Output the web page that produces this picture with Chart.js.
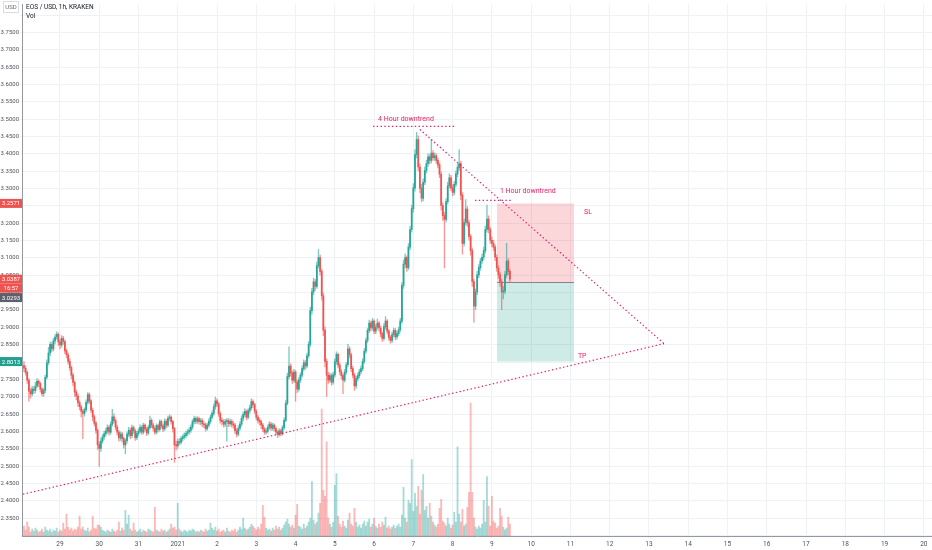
<!DOCTYPE html>
<html>
<head>
<meta charset="utf-8">
<script src="https://cdn.jsdelivr.net/npm/chart.js@4.4.0/dist/chart.umd.min.js"></script>
<style>
  html, body { margin: 0; padding: 0; background: #fff; }
  #wrap { width: 932px; height: 550px; }
</style>
</head>
<body>
<div id="wrap"><canvas id="chart"></canvas></div>
<script>
// EOS/USD 1h candles, hour 0 = Dec 28 00:00 (first candle at hour 2)
const firstHour = 2;
const firstOpen = 2.790;

const closes = [
  2.782, 2.770, 2.748, 2.716, 2.708, 2.722, 2.718, 2.731, 2.744, 2.738, 2.722, 2.709,
  2.718, 2.756, 2.798, 2.826, 2.851, 2.838, 2.861, 2.872, 2.880, 2.858, 2.849, 2.868,
  2.859, 2.832, 2.821, 2.802, 2.784, 2.762, 2.741, 2.713, 2.702, 2.683, 2.671, 2.658,
  2.652, 2.663, 2.684, 2.706, 2.688, 2.661, 2.642, 2.624, 2.603, 2.562, 2.551, 2.572,
  2.584, 2.593, 2.601, 2.612, 2.598, 2.621, 2.642, 2.631, 2.612, 2.598, 2.581, 2.592,
  2.579, 2.561, 2.573, 2.592, 2.603, 2.588, 2.611, 2.602, 2.582, 2.594, 2.601, 2.612,
  2.598, 2.618, 2.607, 2.596, 2.611, 2.632, 2.618, 2.609, 2.598, 2.617, 2.606, 2.628,
  2.616, 2.607, 2.629, 2.618, 2.638, 2.641, 2.628, 2.608, 2.561, 2.558, 2.571, 2.568,
  2.579, 2.584, 2.588, 2.594, 2.599, 2.603, 2.612, 2.628, 2.638, 2.629, 2.637, 2.628,
  2.631, 2.622, 2.619, 2.608, 2.618, 2.629, 2.641, 2.652, 2.671, 2.688, 2.679, 2.651,
  2.632, 2.628, 2.621, 2.628, 2.631, 2.622, 2.629, 2.621, 2.618, 2.602, 2.592, 2.609,
  2.621, 2.638, 2.649, 2.658, 2.641, 2.659, 2.668, 2.686, 2.677, 2.658, 2.641, 2.632,
  2.628, 2.618, 2.607, 2.598, 2.601, 2.612, 2.621, 2.609, 2.618, 2.608, 2.598, 2.591,
  2.602, 2.593, 2.611, 2.632, 2.681, 2.758, 2.788, 2.768, 2.748, 2.771, 2.742, 2.722,
  2.748, 2.762, 2.781, 2.798, 2.789, 2.818, 2.851, 2.948, 3.002, 3.031, 3.018, 3.078,
  3.101, 3.061, 2.991, 2.892, 2.802, 2.762, 2.748, 2.761, 2.742, 2.763, 2.801, 2.822,
  2.791, 2.772, 2.761, 2.748, 2.771, 2.792, 2.838, 2.821, 2.781, 2.762, 2.731, 2.752,
  2.761, 2.772, 2.781, 2.802, 2.831, 2.862, 2.891, 2.912, 2.898, 2.918, 2.889, 2.901,
  2.912, 2.898, 2.881, 2.868, 2.902, 2.918, 2.889, 2.871, 2.862, 2.879, 2.891, 2.872,
  2.882, 2.893, 2.918, 3.021, 3.082, 3.101, 3.072, 3.131, 3.182, 3.242, 3.302, 3.398,
  3.441, 3.362, 3.301, 3.272, 3.318, 3.352, 3.372, 3.391, 3.381, 3.402, 3.389, 3.394,
  3.381, 3.368, 3.341, 3.251, 3.222, 3.211, 3.262, 3.308, 3.331, 3.302, 3.289, 3.312,
  3.342, 3.361, 3.372, 3.281, 3.142, 3.202, 3.241, 3.201, 3.162, 3.121, 3.032, 2.961,
  3.002, 3.051, 3.072, 3.091, 3.102, 3.121, 3.182, 3.212, 3.182, 3.151, 3.142, 3.131,
  3.102, 3.071, 3.052, 3.031, 3.002, 3.004, 3.052, 3.091, 3.061, 3.0387
];

const highs = [
  2.801, 2.789, 2.774, 2.752, 2.724, 2.731, 2.729, 2.742, 2.752, 2.749, 2.742, 2.726,
  2.724, 2.762, 2.806, 2.842, 2.858, 2.856, 2.868, 2.879, 2.887, 2.884, 2.866, 2.876,
  2.874, 2.863, 2.838, 2.826, 2.809, 2.788, 2.768, 2.746, 2.719, 2.708, 2.689, 2.676,
  2.664, 2.668, 2.691, 2.712, 2.711, 2.692, 2.667, 2.648, 2.629, 2.608, 2.571, 2.581,
  2.591, 2.601, 2.609, 2.619, 2.617, 2.628, 2.664, 2.651, 2.636, 2.618, 2.603, 2.599,
  2.597, 2.584, 2.579, 2.598, 2.612, 2.609, 2.618, 2.616, 2.607, 2.601, 2.608, 2.619,
  2.617, 2.624, 2.622, 2.612, 2.618, 2.644, 2.637, 2.623, 2.614, 2.622, 2.621, 2.634,
  2.633, 2.621, 2.636, 2.634, 2.644, 2.648, 2.645, 2.632, 2.612, 2.572, 2.578, 2.579,
  2.586, 2.591, 2.596, 2.601, 2.606, 2.611, 2.619, 2.634, 2.644, 2.642, 2.643, 2.641,
  2.638, 2.636, 2.628, 2.624, 2.624, 2.636, 2.648, 2.659, 2.679, 2.699, 2.694, 2.684,
  2.657, 2.639, 2.634, 2.635, 2.638, 2.636, 2.636, 2.634, 2.628, 2.623, 2.608, 2.616,
  2.628, 2.645, 2.656, 2.666, 2.662, 2.665, 2.676, 2.694, 2.691, 2.682, 2.663, 2.646,
  2.638, 2.633, 2.623, 2.612, 2.609, 2.618, 2.628, 2.626, 2.624, 2.622, 2.613, 2.603,
  2.608, 2.607, 2.617, 2.639, 2.689, 2.768, 2.844, 2.795, 2.774, 2.779, 2.776, 2.748,
  2.755, 2.769, 2.789, 2.806, 2.804, 2.826, 2.859, 2.958, 3.012, 3.042, 3.038, 3.088,
  3.124, 3.108, 3.068, 2.998, 2.901, 2.809, 2.771, 2.768, 2.767, 2.771, 2.809, 2.829,
  2.826, 2.798, 2.779, 2.766, 2.778, 2.799, 2.851, 2.844, 2.826, 2.788, 2.768, 2.759,
  2.768, 2.779, 2.789, 2.809, 2.839, 2.869, 2.898, 2.921, 2.918, 2.926, 2.922, 2.908,
  2.924, 2.917, 2.904, 2.886, 2.911, 2.931, 2.922, 2.894, 2.876, 2.886, 2.898, 2.896,
  2.889, 2.901, 2.926, 3.029, 3.094, 3.112, 3.106, 3.141, 3.191, 3.252, 3.314, 3.412,
  3.462, 3.452, 3.371, 3.312, 3.328, 3.362, 3.382, 3.401, 3.398, 3.442, 3.409, 3.403,
  3.401, 3.388, 3.374, 3.348, 3.259, 3.231, 3.271, 3.318, 3.342, 3.338, 3.311, 3.321,
  3.351, 3.371, 3.412, 3.378, 3.288, 3.212, 3.268, 3.248, 3.208, 3.168, 3.128, 3.039,
  3.011, 3.061, 3.081, 3.099, 3.111, 3.131, 3.192, 3.252, 3.221, 3.188, 3.161, 3.151,
  3.138, 3.109, 3.078, 3.059, 3.038, 3.018, 3.061, 3.142, 3.098, 3.068
];

const lows = [
  2.772, 2.762, 2.738, 2.687, 2.696, 2.702, 2.709, 2.712, 2.725, 2.729, 2.713, 2.702,
  2.701, 2.712, 2.751, 2.792, 2.818, 2.829, 2.832, 2.852, 2.866, 2.848, 2.838, 2.843,
  2.851, 2.824, 2.812, 2.794, 2.776, 2.751, 2.732, 2.701, 2.691, 2.672, 2.662, 2.641,
  2.579, 2.644, 2.657, 2.678, 2.681, 2.654, 2.631, 2.616, 2.594, 2.548, 2.499, 2.542,
  2.566, 2.577, 2.586, 2.594, 2.589, 2.592, 2.615, 2.624, 2.604, 2.589, 2.572, 2.574,
  2.569, 2.552, 2.535, 2.566, 2.585, 2.579, 2.582, 2.594, 2.574, 2.576, 2.588, 2.595,
  2.591, 2.593, 2.601, 2.588, 2.591, 2.606, 2.611, 2.601, 2.591, 2.593, 2.598, 2.601,
  2.609, 2.599, 2.602, 2.611, 2.613, 2.631, 2.621, 2.598, 2.511, 2.546, 2.551, 2.561,
  2.563, 2.572, 2.578, 2.581, 2.587, 2.592, 2.597, 2.606, 2.621, 2.622, 2.623, 2.621,
  2.619, 2.614, 2.611, 2.601, 2.603, 2.612, 2.623, 2.636, 2.646, 2.664, 2.671, 2.643,
  2.624, 2.619, 2.612, 2.614, 2.572, 2.614, 2.616, 2.612, 2.609, 2.594, 2.584, 2.587,
  2.603, 2.615, 2.631, 2.642, 2.633, 2.636, 2.652, 2.662, 2.669, 2.651, 2.633, 2.624,
  2.619, 2.608, 2.599, 2.591, 2.592, 2.596, 2.606, 2.602, 2.603, 2.601, 2.591, 2.582,
  2.586, 2.587, 2.589, 2.606, 2.628, 2.676, 2.751, 2.759, 2.738, 2.741, 2.687, 2.712,
  2.716, 2.741, 2.756, 2.774, 2.779, 2.783, 2.812, 2.845, 2.938, 2.993, 3.006, 3.012,
  3.071, 3.051, 2.978, 2.876, 2.786, 2.701, 2.738, 2.741, 2.733, 2.736, 2.756, 2.794,
  2.783, 2.764, 2.751, 2.709, 2.742, 2.765, 2.786, 2.812, 2.772, 2.754, 2.718, 2.724,
  2.745, 2.754, 2.766, 2.775, 2.796, 2.825, 2.856, 2.884, 2.889, 2.892, 2.881, 2.882,
  2.895, 2.889, 2.872, 2.859, 2.862, 2.895, 2.881, 2.862, 2.854, 2.856, 2.873, 2.864,
  2.866, 2.876, 2.887, 2.911, 3.012, 3.071, 3.061, 3.066, 3.124, 3.174, 3.232, 3.292,
  3.388, 3.351, 3.288, 3.261, 3.264, 3.311, 3.344, 3.364, 3.371, 3.374, 3.381, 3.381,
  3.372, 3.359, 3.331, 3.238, 3.208, 3.071, 3.204, 3.255, 3.301, 3.294, 3.279, 3.282,
  3.305, 3.334, 3.352, 3.268, 3.111, 3.134, 3.194, 3.191, 3.151, 3.108, 3.018, 2.915,
  2.951, 2.994, 3.043, 3.064, 3.084, 3.094, 3.114, 3.174, 3.172, 3.142, 3.132, 3.121,
  3.092, 3.061, 3.041, 3.018, 2.951, 2.982, 2.996, 3.044, 3.051, 3.031
];

// volume in thousands of EOS
const volumes = [
  10, 6, 14, 9, 4, 7, 5, 8, 6, 4, 5, 7,
  4, 9, 6, 5, 7, 4, 6, 5, 8, 4, 6, 5,
  13, 7, 22, 9, 6, 8, 5, 7, 6, 9, 20, 7,
  9, 6, 5, 8, 4, 6, 20, 8, 7, 11, 11, 9,
  6, 5, 4, 6, 5, 4, 7, 5, 4, 6, 14, 5,
  8, 6, 26, 12, 21, 7, 5, 13, 6, 4, 5, 7,
  4, 6, 5, 4, 7, 6, 5, 4, 29, 6, 5, 4,
  7, 5, 6, 4, 5, 7, 12, 8, 9, 6, 33, 7,
  5, 4, 6, 5, 4, 6, 5, 7, 6, 4, 5, 4,
  6, 5, 4, 7, 5, 6, 13, 8, 6, 9, 5, 7,
  4, 5, 6, 4, 8, 5, 4, 6, 5, 7, 4, 6,
  9, 7, 18, 8, 6, 7, 9, 12, 10, 8, 6, 9,
  7, 12, 31, 19, 8, 6, 7, 5, 8, 6, 10, 7,
  9, 6, 8, 11, 14, 17, 12, 9, 11, 8, 21, 32,
  10, 9, 7, 12, 8, 10, 14, 18, 55, 16, 12, 14,
  23, 33, 128, 46, 40, 95, 18, 12, 9, 14, 51, 63,
  20, 12, 9, 15, 10, 8, 16, 23, 12, 10, 28, 14,
  9, 11, 8, 12, 15, 10, 14, 17, 9, 12, 18, 10,
  8, 12, 9, 14, 11, 19, 8, 10, 7, 9, 11, 8,
  10, 12, 9, 21, 49, 18, 14, 36, 33, 77, 25, 43,
  30, 50, 22, 46, 62, 26, 30, 18, 33, 20, 14, 11,
  9, 12, 28, 37, 15, 13, 10, 18, 12, 8, 11, 24,
  14, 90, 22, 14, 27, 10, 12, 29, 44, 134, 44, 18,
  9, 7, 10, 8, 12, 36, 14, 60, 30, 10, 40, 15,
  13, 8, 10, 28, 20, 9, 6, 8, 19, 12
];

// x tick labels, one per day starting Dec 29
const dayTicks = ['29', '30', '31', '2021', '2', '3', '4', '5', '6', '7', '8', '9', '10',
  '11', '12', '13', '14', '15', '16', '17', '18', '19', '20'];

// drawings: [hour, price]
const fourHourTrend = [[244.0, 3.470], [393.2, 2.853]];
const supportTrend = [[1.4, 2.419], [393.2, 2.853]];
const fourHourMark = [[215.3, 3.479], [266.1, 3.479]];
const oneHourMark = [[277.7, 3.266], [300.9, 3.266]];

const positionSpan = [291.1, 338.2];
const stopPrice = 3.2571;
const entryPrice = 3.0293;
const targetPrice = 2.8013;
const lastPrice = 3.0387;

const UP = '#26a69a', DOWN = '#ef5350', PINK = '#e91e63';
const FONT = 'Roboto, "Noto Sans", sans-serif';

const hours = closes.map((c, i) => firstHour + i);
const opens = closes.map((c, i) => i === 0 ? firstOpen : closes[i - 1]);
const isUp = closes.map((c, i) => c >= opens[i]);

const bodies = hours.map((h, i) => ({x: h, y: [opens[i], closes[i]]}));
const wicks = hours.map((h, i) => ({
  x: h,
  y: [Math.min(lows[i], opens[i], closes[i]), Math.max(highs[i], opens[i], closes[i])]
}));
const vols = hours.map((h, i) => ({x: h, y: volumes[i]}));

const toPts = arr => arr.map(p => ({x: p[0], y: p[1]}));

function dotted(data) {
  return {
    type: 'line', data: toPts(data), borderColor: PINK, borderWidth: 1.2,
    borderDash: [1.4, 2.4], pointRadius: 0, fill: false, order: 0, yAxisID: 'y'
  };
}

const overlay = {
  id: 'overlay',
  beforeDatasetsDraw(chart) {
    const {ctx, scales: {x, y}} = chart;
    const x0 = x.getPixelForValue(positionSpan[0]);
    const x1 = x.getPixelForValue(positionSpan[1]);
    const ys = y.getPixelForValue(stopPrice);
    const ye = y.getPixelForValue(entryPrice);
    const yt = y.getPixelForValue(targetPrice);
    ctx.save();
    ctx.fillStyle = 'rgba(242,54,69,0.2)';
    ctx.fillRect(x0, ys, x1 - x0, ye - ys);
    ctx.fillStyle = 'rgba(8,153,129,0.2)';
    ctx.fillRect(x0, ye, x1 - x0, yt - ye);
    ctx.strokeStyle = 'rgba(120,123,134,0.9)';
    ctx.lineWidth = 1;
    ctx.beginPath();
    ctx.moveTo(x0, Math.round(ye) + 0.5);
    ctx.lineTo(x1, Math.round(ye) + 0.5);
    ctx.stroke();
    ctx.restore();
  },
  afterDatasetsDraw(chart) {
    const {ctx, scales: {x, y}} = chart;
    ctx.save();
    ctx.fillStyle = PINK;
    ctx.font = '7px ' + FONT;
    ctx.textBaseline = 'middle';
    ctx.fillText('4 Hour downtrend', x.getPixelForValue(218.4), y.getPixelForValue(3.499));
    ctx.fillText('1 Hour downtrend', x.getPixelForValue(292.9), y.getPixelForValue(3.293));
    ctx.fillText('SL', x.getPixelForValue(344.3), y.getPixelForValue(3.233));
    ctx.fillText('TP', x.getPixelForValue(340.6), y.getPixelForValue(2.816));
    ctx.restore();
  },
  afterDraw(chart) {
    const {ctx, scales: {y}} = chart;
    const w = y.right;
    ctx.save();
    function tag(py, text, bg) {
      ctx.fillStyle = bg;
      ctx.fillRect(0, py - 4.5, w, 9);
      ctx.fillStyle = '#fff';
      ctx.font = '6px ' + FONT;
      ctx.textAlign = 'center';
      ctx.textBaseline = 'middle';
      ctx.fillText(text, w / 2, py + 0.5);
    }
    tag(y.getPixelForValue(stopPrice), stopPrice.toFixed(4), DOWN);
    const pl = y.getPixelForValue(lastPrice);
    tag(pl, lastPrice.toFixed(4), DOWN);
    tag(pl + 9, '16:57', DOWN);
    tag(pl + 18.4, entryPrice.toFixed(4), '#5d606b');
    tag(y.getPixelForValue(targetPrice), targetPrice.toFixed(4), '#22a08f');

    // currency box
    ctx.fillStyle = '#fff';
    ctx.fillRect(0, 0, w, 15);
    ctx.strokeStyle = '#b8bbc4';
    ctx.setLineDash([1, 1]);
    ctx.strokeRect(3.5, 1.5, 15, 11);
    ctx.setLineDash([]);
    ctx.fillStyle = '#6a6d78';
    ctx.font = '6px ' + FONT;
    ctx.textAlign = 'center';
    ctx.textBaseline = 'middle';
    ctx.fillText('USD', 11, 7.5);

    // title
    ctx.textAlign = 'left';
    ctx.fillStyle = '#131722';
    ctx.font = '6.5px ' + FONT;
    ctx.fillText('EOS / USD, 1h, KRAKEN', w + 4, 7.5);
    ctx.fillText('Vol', w + 4, 16);
    ctx.restore();
  }
};

new Chart(document.getElementById('chart'), {
  type: 'bar',
  data: {
    datasets: [
      dotted(fourHourTrend),
      dotted(supportTrend),
      dotted(fourHourMark),
      dotted(oneHourMark),
      {
        data: bodies, yAxisID: 'y', grouped: false, order: 1,
        backgroundColor: isUp.map(u => u ? UP : DOWN),
        barThickness: 1.1, minBarLength: 1, borderWidth: 0
      },
      {
        data: wicks, yAxisID: 'y', grouped: false, order: 2,
        backgroundColor: isUp.map(u => u ? 'rgba(38,166,154,0.6)' : 'rgba(239,83,80,0.6)'),
        barThickness: 0.7, borderWidth: 0
      },
      {
        data: vols, yAxisID: 'yVol', grouped: false, order: 3,
        backgroundColor: isUp.map(u => u ? 'rgba(38,166,154,0.4)' : 'rgba(239,83,80,0.4)'),
        barThickness: 1.2, borderWidth: 0
      }
    ]
  },
  options: {
    responsive: true,
    maintainAspectRatio: false,
    animation: false,
    layout: {padding: 0},
    plugins: {legend: {display: false}, tooltip: {enabled: false}},
    scales: {
      x: {
        type: 'linear', min: 0.8, max: 557, offset: false,
        grid: {color: '#eef1f6', tickLength: 2, offset: false},
        border: {color: '#9598a1'},
        ticks: {
          stepSize: 24, includeBounds: false, autoSkip: false, maxTicksLimit: 1000,
          maxRotation: 0, padding: 2, color: '#50535e',
          font: {size: 6.5, family: FONT},
          callback: v => dayTicks[Math.round(v / 24) - 1] || ''
        },
        afterFit: s => { s.height = 14; }
      },
      y: {
        position: 'left', min: 2.2986, max: 3.83,
        grid: {color: '#eef1f6', tickLength: 2},
        border: {color: '#9598a1'},
        ticks: {
          stepSize: 0.05, includeBounds: false, maxTicksLimit: 1000, padding: 1,
          color: '#50535e', font: {size: 6, family: FONT},
          callback: v => (v < 2.33 || v > 3.77) ? '' : v.toFixed(4)
        },
        afterFit: s => { s.width = 22; }
      },
      yVol: {display: false, min: 0, max: 536}
    }
  },
  plugins: [overlay]
});
</script>
</body>
</html>
